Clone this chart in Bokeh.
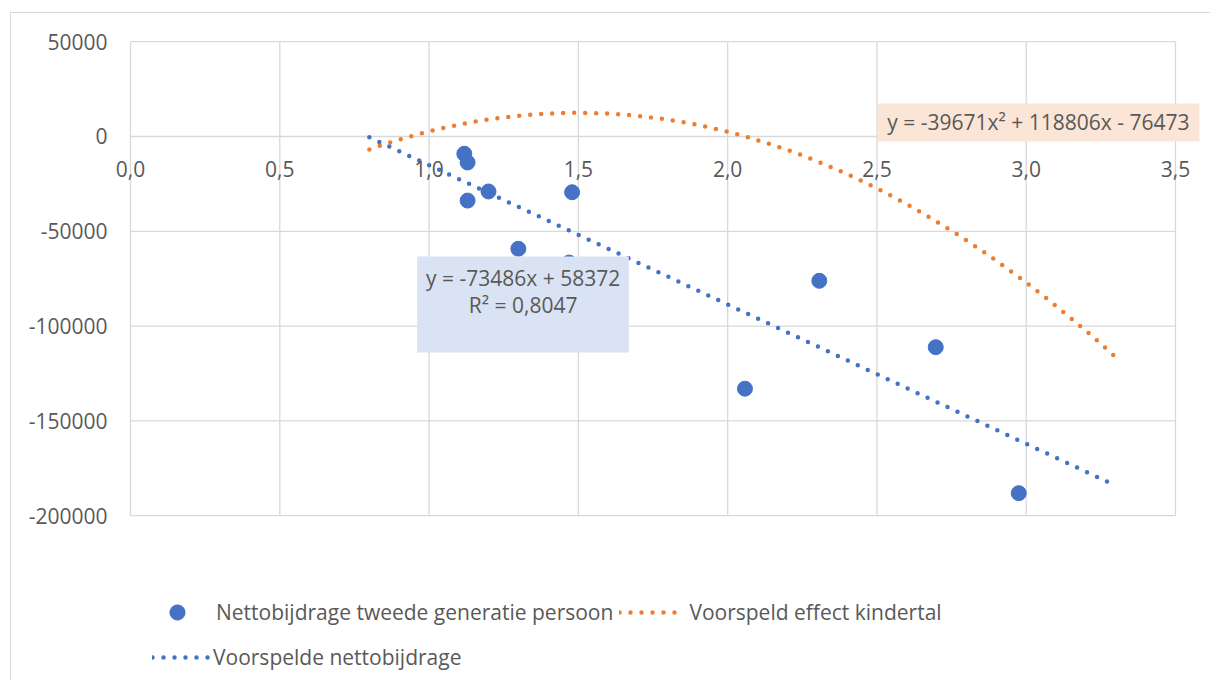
import numpy as np
from bokeh.plotting import figure
from bokeh.models import Label, BoxAnnotation, Legend, LegendItem, FixedTicker
from bokeh.embed import file_html
from bokeh.resources import INLINE

# ---- data ----
x_points = [1.118, 1.129, 1.129, 1.199, 1.479, 1.299, 1.469, 2.307, 2.058, 2.697, 2.975]
y_points = [-9100, -13700, -33800, -29000, -29400, -59200, -66500, -76100, -133000, -111100, -188100]

lin_coef = [-73486, 58372]            # Voorspelde nettobijdrage (linear trendline)
quad_coef = [-39671, 118806, -76473]  # Voorspeld effect kindertal (polynomial trendline)
trend_x_range = [0.8, 3.3]

x_ticks = [0, 0.5, 1.0, 1.5, 2.0, 2.5, 3.0, 3.5]
x_tick_labels = ["0,0", "0,5", "1,0", "1,5", "2,0", "2,5", "3,0", "3,5"]
y_ticks = [-200000, -150000, -100000, -50000, 0, 50000]
y_tick_labels = ["-200000", "-150000", "-100000", "-50000", "0", "50000"]

series_names = ["Nettobijdrage tweede generatie persoon",
                "Voorspeld effect kindertal",
                "Voorspelde nettobijdrage"]
lin_eq_text = ["y = -73486x + 58372", "R² = 0,8047"]
quad_eq_text = "y = -39671x² + 118806x - 76473"

BLUE = "#4472C4"
ORANGE = "#ED7D31"
TXT = "#595959"
GRID = "#D9D9D9"
FONT = "Open Sans"
FS = "21px"

# frame is larger than the gridded area so labels/legends are not clipped
p = figure(width=1200, height=668, x_range=(-0.0603, 3.6005), y_range=(-286900, 55900),
           output_backend="svg", toolbar_location=None, x_axis_location=None,
           min_border_left=101, min_border_right=6, min_border_top=17, min_border_bottom=1)
p.styles = {"margin-left": "10px", "margin-top": "12px",
            "border-left": "1px solid #D9D9D9", "border-top": "1px solid #D9D9D9"}
p.outline_line_color = None
p.grid.visible = False
p.background_fill_color = "white"
p.border_fill_color = "white"

# gridlines limited to the tick extent
x0, x1 = x_ticks[0], x_ticks[-1]
y0, y1 = y_ticks[0], y_ticks[-1]
p.segment(x0=[x0] * len(y_ticks), x1=[x1] * len(y_ticks), y0=y_ticks, y1=y_ticks,
          line_color=GRID, line_width=1.3)
p.segment(x0=x_ticks, x1=x_ticks, y0=[y0] * len(x_ticks), y1=[y1] * len(x_ticks),
          line_color=GRID, line_width=1.3)

# y axis
ax = p.yaxis[0]
ax.ticker = FixedTicker(ticks=y_ticks)
ax.major_label_overrides = {t: l for t, l in zip(y_ticks, y_tick_labels)}
ax.axis_line_color = None
ax.major_tick_line_color = None
ax.minor_tick_line_color = None
ax.major_tick_in = 0
ax.major_tick_out = 0
ax.major_label_standoff = 5
ax.major_label_text_font = FONT
ax.major_label_text_font_size = FS
ax.major_label_text_color = TXT

# x tick labels just below y = 0
for t, l in zip(x_ticks, x_tick_labels):
    p.add_layout(Label(x=t, y=-17100, text=l, text_align="center", text_baseline="middle",
                       text_font=FONT, text_font_size=FS, text_color=TXT))

# trendlines
xs = np.linspace(trend_x_range[0], trend_x_range[1], 200)
quad_y = np.polyval(quad_coef, xs)
lin_x = np.array(trend_x_range)
lin_y = np.polyval(lin_coef, lin_x)

ql = p.line(xs, quad_y, line_color=ORANGE, line_width=4.5, line_dash="0 11", line_cap="round")
ll = p.line(lin_x, lin_y, line_color=BLUE, line_width=4.5, line_dash="0 11", line_cap="round")

sc = p.scatter(x_points, y_points, size=15, marker="circle", fill_color=BLUE, line_color=BLUE)

# trendline labels
p.add_layout(BoxAnnotation(left=0.960, right=1.669, top=-63300, bottom=-113900,
                           fill_color="#DAE3F3", fill_alpha=1, line_color=None))
p.add_layout(Label(x=1.315, y=-74400, text=lin_eq_text[0], text_align="center", text_baseline="middle",
                   text_font=FONT, text_font_size=FS, text_color=TXT))
p.add_layout(Label(x=1.315, y=-89100, text=lin_eq_text[1], text_align="center", text_baseline="middle",
                   text_font=FONT, text_font_size=FS, text_color=TXT))

p.add_layout(BoxAnnotation(left=2.502, right=3.580, top=17400, bottom=-2640,
                           fill_color="#FBE5D6", fill_alpha=1, line_color=None))
p.add_layout(Label(x=3.041, y=7400, text=quad_eq_text, text_align="center", text_baseline="middle",
                   text_font=FONT, text_font_size=FS, text_color=TXT))

# legends
leg1 = Legend(items=[LegendItem(label=series_names[0], renderers=[sc]),
                     LegendItem(label=series_names[1], renderers=[ql])],
              orientation="horizontal", location=(34, 49),
              glyph_width=62, glyph_height=38, label_standoff=8, spacing=6,
              padding=0, margin=0, border_line_color=None, background_fill_alpha=0,
              label_text_font=FONT, label_text_font_size=FS, label_text_color=TXT)
leg2 = Legend(items=[LegendItem(label=series_names[2], renderers=[ll])],
              orientation="horizontal", location=(40, 9),
              glyph_width=58, glyph_height=20, label_standoff=3, spacing=6,
              padding=0, margin=0, border_line_color=None, background_fill_alpha=0,
              label_text_font=FONT, label_text_font_size=FS, label_text_color=TXT)
p.add_layout(leg1, "center")
p.add_layout(leg2, "center")

open("out.html", "w").write(file_html(p, INLINE))
